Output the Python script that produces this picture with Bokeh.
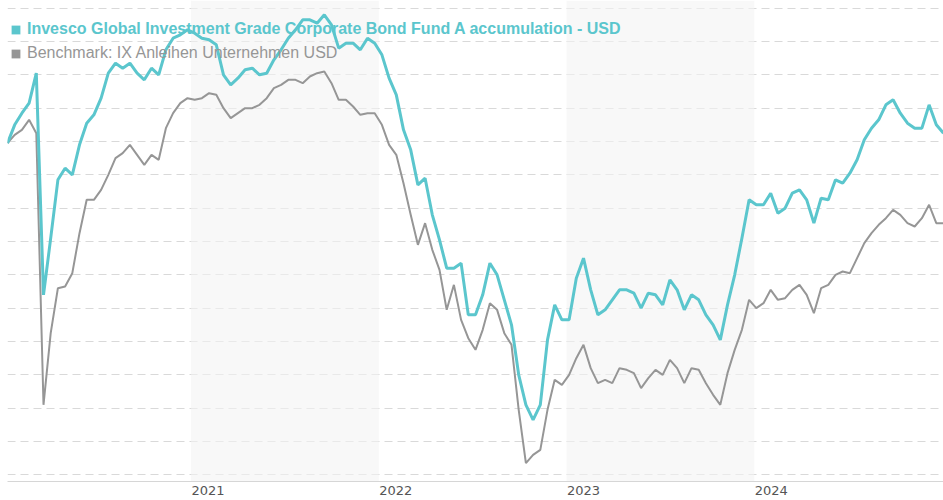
import pandas as pd
from bokeh.plotting import figure
from bokeh.models import Range1d, FixedTicker, BoxAnnotation, Legend, LegendItem
from bokeh.embed import file_html
from bokeh.resources import INLINE

fund_name = "Invesco Global Investment Grade Corporate Bond Fund A accumulation - USD"
bench_name = "Benchmark: IX Anleihen Unternehmen USD"

# bi-weekly observations, cumulative performance in %
dates = pd.date_range("2020-01-10", periods=131, freq="14D")

fund = [-0.1, 1.0, 1.7, 2.3, 4.1, -9.2, -5.8, -2.3, -1.6, -2.0,
        -0.2, 1.1, 1.6, 2.6, 4.1, 4.7, 4.4, 4.7, 4.1, 3.7,
        4.4, 4.0, 5.5, 6.2, 6.4, 6.7, 6.5, 6.2, 6.1, 5.8,
        4.0, 3.4, 3.8, 4.3, 4.4, 4.0, 4.1, 4.9, 5.5, 6.2,
        6.7, 7.3, 7.3, 7.1, 7.6, 7.0, 5.6, 5.9, 5.9, 5.5,
        6.2, 5.9, 5.2, 3.8, 2.8, 0.7, -0.5, -2.6, -2.2, -4.4,
        -5.9, -7.6, -7.6, -7.3, -10.4, -10.4, -9.2, -7.3, -8.0, -9.5,
        -11.0, -14.0, -15.8, -16.7, -15.8, -11.9, -9.8, -10.7, -10.7, -8.2,
        -7.0, -8.9, -10.4, -10.1, -9.5, -8.9, -8.9, -9.1, -10.0, -9.1,
        -9.2, -9.8, -8.3, -8.9, -10.1, -9.2, -9.5, -10.4, -11.0, -11.9,
        -9.8, -8.0, -5.8, -3.5, -3.8, -3.8, -3.1, -4.3, -4.0, -3.1,
        -2.9, -3.5, -4.9, -3.4, -3.5, -2.3, -2.5, -1.9, -1.1, 0.1,
        0.8, 1.3, 2.2, 2.5, 1.7, 1.1, 0.8, 0.8, 2.2, 1.0,
        0.5]

bench = [-0.1, 0.4, 0.7, 1.3, 0.5, -15.8, -11.5, -8.8, -8.7, -7.9,
         -5.5, -3.5, -3.5, -2.9, -2.0, -1.0, -0.7, -0.2, -0.8, -1.4,
         -0.8, -1.1, 0.8, 1.7, 2.3, 2.6, 2.5, 2.6, 2.9, 2.8,
         2.0, 1.4, 1.7, 2.0, 2.0, 2.2, 2.6, 3.2, 3.4, 3.7,
         3.7, 3.5, 3.9, 4.1, 4.2, 3.5, 2.5, 2.5, 2.1, 1.6,
         1.7, 1.7, 1.0, -0.2, -0.8, -2.5, -4.4, -6.2, -4.9, -6.5,
         -7.7, -10.1, -8.6, -10.7, -11.8, -12.5, -11.3, -9.7, -10.1, -11.5,
         -12.2, -16.1, -19.3, -18.8, -18.5, -16.1, -14.3, -14.6, -14.0, -13.0,
         -12.2, -13.6, -14.5, -14.3, -14.5, -13.6, -13.7, -13.9, -14.8, -14.2,
         -13.7, -14.0, -13.1, -13.6, -14.5, -13.6, -13.7, -14.5, -15.2, -15.8,
         -13.9, -12.5, -11.3, -9.5, -10.0, -9.7, -8.9, -9.5, -9.4, -8.9,
         -8.6, -9.2, -10.3, -8.8, -8.6, -8.0, -7.8, -7.9, -7.0, -6.1,
         -5.5, -5.0, -4.6, -4.1, -4.4, -4.9, -5.1, -4.6, -3.8, -4.9,
         -4.9]

year_labels = ["2021", "2022", "2023", "2024"]
shaded_years = [2021, 2023]
grid_values = [-20, -18, -16, -14, -12, -10, -8, -6, -4, -2, 0, 2, 4, 6, 8]

TEAL = "#5bc6cd"
GREY = "#969696"


def ms(ts):
    return pd.Timestamp(ts).value / 1e6


p = figure(width=943, height=500, output_backend="svg", toolbar_location=None,
           x_axis_type="datetime",
           x_range=Range1d(ms(dates[0]), ms(dates[-1])),
           y_range=Range1d(-20.4, 8.46),
           min_border_left=7, min_border_right=0, min_border_top=0, min_border_bottom=19)
p.outline_line_color = None
p.background_fill_color = "white"
p.border_fill_color = "white"

# y grid only, axis hidden
p.yaxis.ticker = FixedTicker(ticks=grid_values)
p.yaxis.visible = False
p.ygrid.grid_line_color = "#d9d9d9"
p.ygrid.grid_line_dash = "8 5"
p.ygrid.grid_line_width = 1
p.xgrid.visible = False

# alternating year bands
for yr in shaded_years:
    p.add_layout(BoxAnnotation(left=ms(f"{yr}-01-01"), right=ms(f"{yr + 1}-01-01"),
                               fill_color="#f3f3f3", fill_alpha=0.6, line_color=None,
                               level="underlay"))

# x axis: year labels placed just after each year boundary
tick_pos = [ms(f"{y}-02-03") for y in year_labels]
p.xaxis.ticker = FixedTicker(ticks=tick_pos)
p.xaxis.major_label_overrides = {t: lab for t, lab in zip(tick_pos, year_labels)}
p.xaxis.major_tick_line_color = None
p.xaxis.minor_tick_line_color = None
p.xaxis.major_tick_out = 0
p.xaxis.major_tick_in = 0
p.xaxis.axis_line_color = "#d6d6d6"
p.xaxis.axis_line_width = 1
p.xaxis.major_label_standoff = 4
p.xaxis.major_label_text_font = "DejaVu Sans"
p.xaxis.major_label_text_font_size = "13px"
p.xaxis.major_label_text_color = "#555555"

x = [ms(d) for d in dates]
p.line(x, bench, line_color=GREY, line_width=2)
p.line(x, fund, line_color=TEAL, line_width=3)

# legend swatches (kept out of the visible range)
sw_f = p.quad(left=[x[0]], right=[x[1]], top=[100], bottom=[99], fill_color=TEAL, line_color=None)
sw_b = p.quad(left=[x[0]], right=[x[1]], top=[100], bottom=[99], fill_color=GREY, line_color=None)

common = dict(orientation="vertical", padding=0, margin=0, spacing=0,
              glyph_width=11, glyph_height=11, label_standoff=6, label_height=20,
              border_line_color=None, background_fill_alpha=0,
              label_text_font="Liberation Sans", label_text_font_size="16px")
leg_f = Legend(items=[LegendItem(label=fund_name, renderers=[sw_f])], location=(3, 442),
               label_text_color=TEAL, label_text_font_style="bold", **common)
leg_b = Legend(items=[LegendItem(label=bench_name, renderers=[sw_b])], location=(3, 418),
               label_text_color=GREY, **common)
p.add_layout(leg_f, "center")
p.add_layout(leg_b, "center")

open("out.html", "w").write(file_html(p, INLINE))
